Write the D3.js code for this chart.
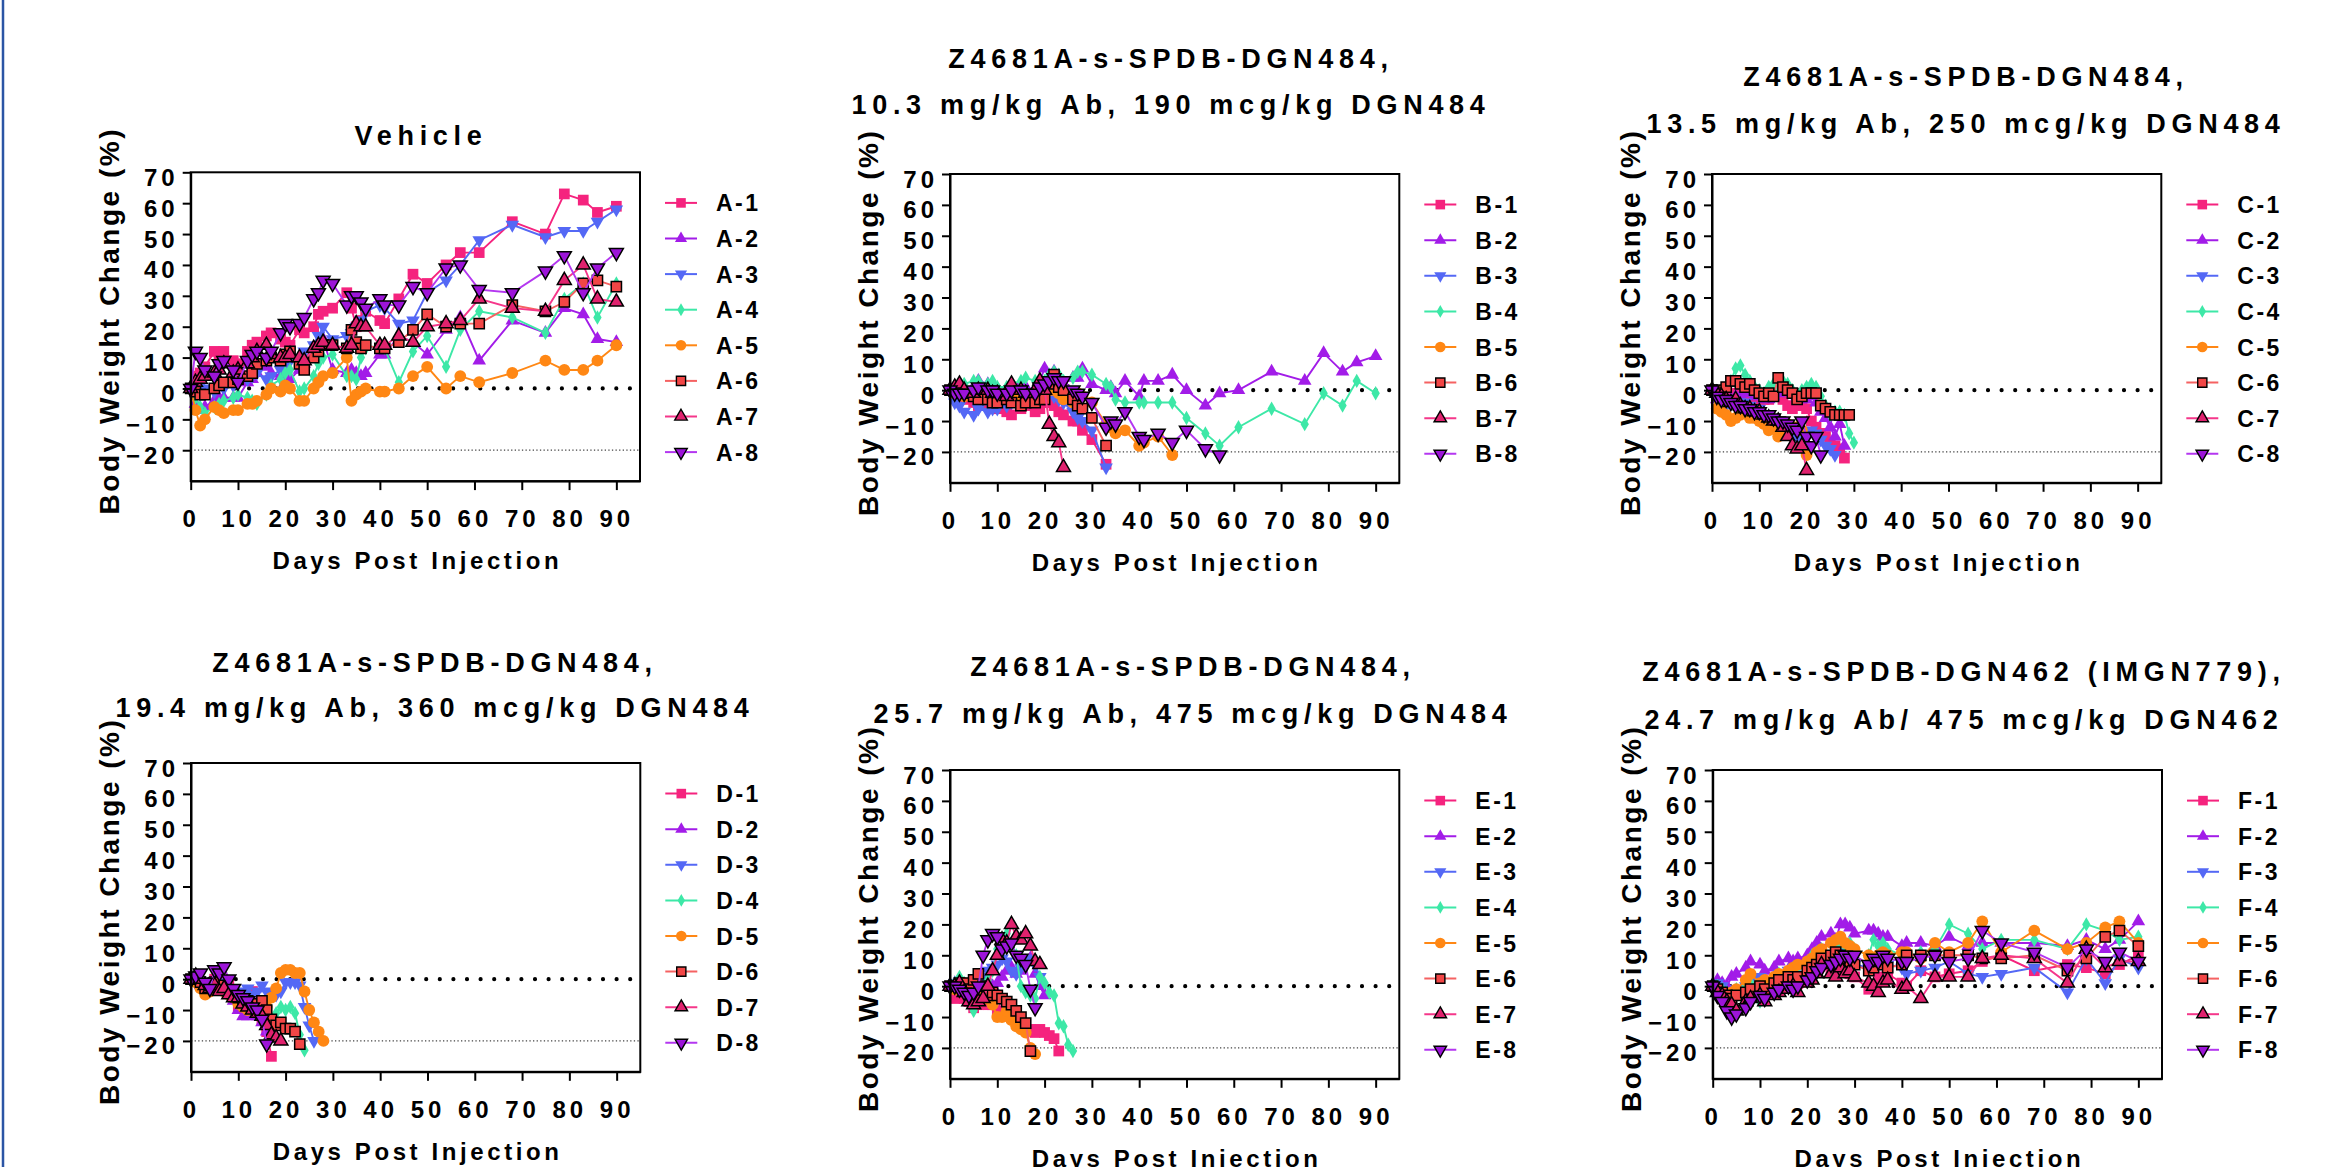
<!DOCTYPE html>
<html>
<head>
<meta charset="utf-8">
<script src="https://cdn.jsdelivr.net/npm/d3@7"></script>
<style>
  body { margin: 0; background: #fff; }
  svg text { font-family: 'Liberation Sans', Arial, Helvetica, sans-serif; font-weight: bold; fill: #000; }
</style>
</head>
<body>
<svg id="chart"></svg>
<script>
// ---- data ----
const xTicks = [0, 10, 20, 30, 40, 50, 60, 70, 80, 90];
const yTicks = [-20, -10, 0, 10, 20, 30, 40, 50, 60, 70];

const daysA = [0,1,2,3,5,6,7,9,10,12,13,14,16,17,19,20,21,23,24,26,27,28,30,33,34,35,36,37,40,41,44,47,50,54,57,61,68,75,79,83,86,90];
const daysB = [0,1,2,3,5,6,8,9,10,12,13,15,16,18,19,20,21,22,23,24,26,27,28,30,33,34,35,37,40,41,44,47,50,54,57,61,68,75,79,83,86,90];
const daysDaily = [0,1,2,3,4,5,6,7,8,9,10,11,12,13,14,15,16,17,18,19,20,21,22,23,24,25,26,27,28,29,30];
const daysF = [0,1,2,3,4,5,7,8,10,11,13,14,16,17,18,20,21,22,23,25,26,27,28,29,30,33,34,35,36,37,40,41,44,47,50,54,57,61,68,75,79,83,86,90];

const seriesA = [
  [0,4,5,7,12,11,12,9,8,12,14,15,17,18,16,15,14,19,18,20,24,25,26,31,26,20,22,25,22,21,29,37,34,40,44,44,54,50,63,61,57,59],
  [0,-5,-7,-6,-4,-3,-3,-3,-3,2,3,5,7,5,4,2,3,6,8,12,15,16,6,5,6,5,4,5,11,11,17,15,11,19,23,9,22,18,26,24,16,15],
  [0,0,1,0,-1,1,0,1,2,3,4,5,3,4,6,7,9,10,12,14,17,20,16,17,18,20,22,25,27,26,21,22,31,35,40,48,53,49,51,51,54,58],
  [0,-3,-6,-8,-6,-5,-4,-3,-2,-3,-4,-5,-2,1,3,5,6,-1,0,4,8,10,11,4,4,3,10,13,14,13,2,12,17,7,19,25,23,18,29,34,23,34],
  [0,-7,-12,-10,-6,-7,-8,-7,-7,-5,-5,-4,-2,0,-1,1,0,-4,-4,0,2,4,5,10,-4,-2,-1,0,-1,-1,0,4,7,0,4,2,5,9,6,6,9,14],
  [0,-1,-2,-2,0,1,2,2,3,4,5,8,9,10,9,11,12,8,6,10,12,14,14,13,19,15,13,14,13,13,15,19,24,20,21,21,27,25,28,34,35,33],
  [0,2,3,4,5,6,8,5,6,8,10,12,14,11,10,10,11,10,9,13,14,15,14,13,14,21,20,20,14,14,17,15,20,21,22,29,26,25,35,40,29,28],
  [0,12,10,6,4,8,9,6,2,9,11,12,10,12,18,21,20,21,23,29,31,35,34,27,30,30,28,26,29,27,27,33,31,39,40,32,31,38,43,31,39,44]
];
const seriesB = [
  [0,-1,-2,-3,-4,-5,-5,-6,-6,-7,-8,-6,-5,-7,-6,-4,-4,-5,-7,-8,-10,-10,-13,-16,-24],
  [0,1,2,0,1,3,2,2,0,0,0,2,1,0,3,7,4,6,4,2,4,4,7,2,0,1,-1,3,-2,3,3,5,0,-5,-1,0,6,3,12,6,9,11],
  [0,-4,-5,-7,-8,-6,-7,-6,-6,-5,-4,-4,-3,-3,-2,-1,-1,-2,-3,-4,-7,-9,-10,-13,-25],
  [0,0,1,2,3,3,2,3,1,1,2,3,4,3,2,3,5,6,5,3,4,6,6,5,2,1,-3,-4,-4,-4,-4,-4,-9,-14,-18,-12,-6,-11,-1,-5,3,-1],
  [0,-1,-1,-2,-2,-2,-1,-1,-2,-3,-3,-2,-2,-1,0,1,0,0,-1,-3,-4,-1,-2,-4,-11,-12,-14,-13,-18,-17,-15,-21],
  [0,0,-1,-1,-2,-3,-3,-4,-4,-3,-4,-5,-4,-4,-3,-3,2,5,1,0,-3,-5,-6,-9,-18],
  [0,1,2,0,-1,0,0,-1,-1,-2,2,0,-1,0,3,0,-11,-15,-17,-25],
  [0,-1,-1,-1,0,1,0,0,-1,-1,0,0,-1,-1,1,2,3,4,3,3,0,-1,-2,-4,-12,-10,-11,-7,-15,-16,-14,-17,-13,-19,-21]
];
const seriesC = [
  [0,-2,-2,-2,-3,-1,0,-2,-2,-3,-4,-3,-3,-2,-2,-3,-5,-6,-5,-5,-6,-10,-12,-14,-15,-17,-18,-19,-22],
  [0,-3,-3,-4,-3,-2,-2,-1,-1,-2,-2,-3,-3,-2,-1,1,0,-1,-2,-3,-3,-2,-4,-7,-9,-12,-15,-11,-18],
  [0,-3,-4,-5,-4,-5,-4,-4,-5,-6,-6,-8,-9,-10,-11,-10,-12,-14,-15,-15,-14,-13,-14,-16,-18,-19,-21],
  [0,-1,0,1,3,7,8,5,3,1,0,-1,1,2,1,3,2,0,-2,0,1,2,1,-2,-5,-8,-7,-7,-8,-14,-17],
  [0,-6,-7,-8,-10,-9,-8,-7,-9,-9,-10,-11,-13,-12,-15,-13,-11,-12,-12,-13,-21],
  [0,0,-1,1,3,3,2,1,2,0,-1,-2,-1,-2,4,1,0,-1,-3,-2,-1,-1,-1,-5,-6,-7,-8,-8,-8,-8],
  [0,-1,-2,-3,-4,-3,-5,-6,-6,-7,-7,-8,-9,-10,-10,-12,-15,-18,-19,-18,-26],
  [0,-2,-3,-3,-4,-5,-5,-6,-6,-7,-7,-8,-8,-9,-10,-10,-11,-12,-13,-10,-15,-18,-15,-21]
];
const seriesD = [
  [0,0,-1,-3,-2,0,0,-1,-2,-4,-9,-8,-5,-4,-8,-13,-17,-25],
  [0,1,-2,-3,-4,-3,-3,-2,-5,-7,-10,-12,-12,-11,-12,-14,-17],
  [0,-1,-2,-3,-2,-3,-2,-1,-3,-5,-6,-4,-3,-5,-4,-2,-4,-5,-5,-4,-1,-1,-1,-2,-9,-15,-20],
  [0,0,-1,-2,-2,-3,-2,-3,-4,-6,-7,-8,-9,-10,-9,-10,-12,-13,-11,-9,-10,-9,-11,-18,-23],
  [0,-1,-3,-5,-4,-3,-2,-4,-5,-6,-8,-9,-10,-9,-10,-11,-9,-6,-3,2,3,3,2,2,-4,-10,-14,-17,-20],
  [0,0,-1,-3,-2,-1,-3,-2,-4,-5,-6,-7,-7,-8,-8,-7,-10,-13,-15,-14,-16,-16,-17,-21],
  [0,1,0,-2,-3,-2,-4,-3,-5,-6,-6,-8,-9,-10,-11,-12,-15,-18,-19,-20],
  [0,1,2,-1,-3,3,2,4,0,-3,-5,-6,-7,-9,-10,-13,-21]
];
const seriesE = [
  [0,-4,-3,-4,-5,-7,-6,-5,-6,-6,-8,-4,-6,-7,-10,-11,-12,-14,-15,-14,-15,-16,-17,-21],
  [0,1,2,0,-2,-1,0,1,2,0,1,3,5,6,4,5,8,9,4,0,-3],
  [0,1,0,-2,-3,0,1,3,5,6,7,9,8,5,4,6,8,9,7,3],
  [0,1,3,1,-4,-8,-3,-1,2,5,12,15,17,14,10,0,-2,-3,-4,3,1,-2,-3,-12,-13,-19,-21],
  [0,-1,0,1,1,0,-2,-3,-4,-6,-10,-10,-8,-11,-13,-14,-15,-20,-22],
  [0,0,1,1,-1,2,4,0,-3,-2,-3,-4,-5,-6,-8,-10,-12,-21],
  [0,0,1,-2,-5,-6,-5,-4,0,5,10,15,14,20,16,15,17,13,8,7],
  [0,0,-1,-2,-3,-2,0,10,15,17,16,12,13,14,10,9,7,-1,-7]
];
const seriesF = [
  [0,-1,-2,-3,-4,-3,-1,-2,0,1,0,2,3,2,3,5,6,7,12,5,4,6,8,4,3,-1,0,3,2,4,1,0,5,3,4,5,8,10,5,7,6,4,7,10],
  [0,2,1,0,3,4,6,8,7,5,6,8,9,8,9,10,12,14,16,17,15,20,20,19,17,18,18,17,16,16,13,14,14,13,16,13,14,14,14,13,15,12,15,21],
  [0,1,0,-2,-3,-1,0,2,3,1,2,4,5,4,6,6,8,9,9,10,10,11,10,8,7,6,7,9,8,7,6,4,5,6,8,4,3,4,6,-2,9,1,9,6],
  [0,0,-1,-2,-3,-1,0,1,-5,0,2,4,5,6,6,8,10,11,12,10,13,14,13,14,12,10,15,13,14,12,10,9,11,12,20,17,12,15,15,12,20,18,15,16],
  [0,-1,-2,-3,-2,-1,2,4,1,2,3,4,5,6,7,8,9,11,12,14,15,16,14,13,12,10,9,10,11,10,11,11,9,14,11,14,21,11,18,12,14,19,21,14],
  [0,-1,-2,-3,-4,-3,-2,-1,0,-1,1,2,3,2,3,5,6,7,9,10,11,10,9,8,7,5,6,8,7,6,7,10,10,10,10,10,9,9,10,5,9,16,18,13],
  [0,-2,-3,-5,-6,-8,-5,-4,-3,-5,-3,-2,-1,0,-2,1,2,4,7,4,3,6,4,5,3,1,0,-2,1,2,-1,0,-4,3,3,3,9,10,9,1,12,6,8,8],
  [0,-3,-5,-8,-10,-9,-7,-5,-3,-4,-2,-1,0,-1,0,2,3,5,6,7,8,9,10,9,10,7,9,8,10,9,8,8,9,10,8,9,18,14,11,6,12,8,11,8]
];

const titleA = ['Vehicle'];
const titleB = ['Z4681A-s-SPDB-DGN484,', '10.3 mg/kg Ab, 190 mcg/kg DGN484'];
const titleC = ['Z4681A-s-SPDB-DGN484,', '13.5 mg/kg Ab, 250 mcg/kg DGN484'];
const titleD = ['Z4681A-s-SPDB-DGN484,', '19.4 mg/kg Ab, 360 mcg/kg DGN484'];
const titleE = ['Z4681A-s-SPDB-DGN484,', '25.7 mg/kg Ab, 475 mcg/kg DGN484'];
const titleF = ['Z4681A-s-SPDB-DGN462 (IMGN779),', '24.7 mg/kg Ab/ 475 mcg/kg DGN462'];

const animals = ['1', '2', '3', '4', '5', '6', '7', '8'];

// ---- styles ----
const lineColors = ['#F5237E', '#A21CE8', '#5468F5', '#3DE8A7', '#FF8714', '#F56262', '#F5378A', '#B437F0'];
const markFills  = ['#F5237E', '#A21CE8', '#5468F5', '#3DE8A7', '#FF8714', '#F24646', '#E0226E', '#9C14D8'];
const outlined   = [false, false, false, false, false, true, true, true];
const shapes = [
  {type: d3.symbolSquare, size: 115, rot: 0},
  {type: d3.symbolTriangle, size: 80, rot: 0},
  {type: d3.symbolTriangle, size: 80, rot: 180},
  {type: d3.symbolDiamond, size: 60, rot: 0},
  {type: d3.symbolCircle, size: 110, rot: 0},
  {type: d3.symbolSquare, size: 105, rot: 0},
  {type: d3.symbolTriangle, size: 85, rot: 0},
  {type: d3.symbolTriangle, size: 85, rot: 180}
];

const W = 449.3, H = 308.8;

const svg = d3.select('#chart')
    .attr('width', 2331)
    .attr('height', 1167);

svg.append('rect').attr('width', 2331).attr('height', 1167).attr('fill', '#fff');
svg.append('line')
    .attr('x1', 3).attr('x2', 3).attr('y1', 0).attr('y2', 1167)
    .attr('stroke', '#2B55A5').attr('stroke-width', 2.5);

function drawPanel(cfg, group, days, series, titleLines) {
  const g = svg.append('g').attr('transform', `translate(${cfg.left},${cfg.top})`);

  const x = d3.scaleLinear().domain([0, 95]).range([0, W]);
  const y = d3.scaleLinear().domain([-30, 70]).range([H, 0]);

  // reference lines at -20 and 0
  g.append('line')
      .attr('x1', 0).attr('x2', W).attr('y1', y(-20)).attr('y2', y(-20))
      .attr('stroke', '#444').attr('stroke-width', 1.3).attr('stroke-dasharray', '1.3 2.3');
  g.append('line')
      .attr('x1', 4).attr('x2', W).attr('y1', y(0)).attr('y2', y(0))
      .attr('stroke', '#000').attr('stroke-width', 4.2)
      .attr('stroke-linecap', 'round').attr('stroke-dasharray', '0 13.6');

  const line = d3.line().x(p => x(p.d)).y(p => y(p.v));

  series.forEach((vals, i) => {
    const pts = vals.map((v, j) => ({d: days[j], v: v}));
    g.append('path')
        .datum(pts)
        .attr('d', line)
        .attr('fill', 'none')
        .attr('stroke', lineColors[i])
        .attr('stroke-width', 1.9);
    const sym = d3.symbol().type(shapes[i].type).size(shapes[i].size);
    g.append('g').selectAll('path')
        .data(pts)
        .join('path')
        .attr('transform', p => `translate(${x(p.d)},${y(p.v)}) rotate(${shapes[i].rot})`)
        .attr('d', sym)
        .attr('fill', markFills[i])
        .attr('stroke', outlined[i] ? '#000' : 'none')
        .attr('stroke-width', 1.5);
  });

  // frame
  g.append('rect')
      .attr('width', W).attr('height', H)
      .attr('fill', 'none').attr('stroke', '#000').attr('stroke-width', 2);

  // axes
  const yAxisG = g.append('g')
      .call(d3.axisLeft(y).tickValues(yTicks).tickSize(8).tickSizeOuter(0));
  const xAxisG = g.append('g')
      .attr('transform', `translate(0,${H})`)
      .call(d3.axisBottom(x).tickValues(xTicks).tickSize(9).tickSizeOuter(0));

  [yAxisG, xAxisG].forEach(a => {
    a.attr('font-family', null).attr('font-size', null);
    a.select('.domain').attr('stroke-width', 2);
    a.selectAll('.tick line').attr('stroke-width', 2);
  });
  yAxisG.selectAll('.tick text')
      .attr('x', -12).attr('y', 13).attr('dy', null)
      .style('font-size', '24px').attr('letter-spacing', 4);
  xAxisG.selectAll('.tick text')
      .attr('y', 46).attr('dy', null)
      .style('font-size', '24px').attr('letter-spacing', 4);

  // axis titles
  g.append('text')
      .attr('transform', `translate(-72,${H / 2 - 6}) rotate(-90)`)
      .attr('text-anchor', 'middle')
      .style('font-size', '28px').attr('letter-spacing', 2.5)
      .text('Body Weight Change (%)');
  g.append('text')
      .attr('x', W / 2 + 2).attr('y', H + 88)
      .attr('text-anchor', 'middle')
      .style('font-size', '24px').attr('letter-spacing', 3.6)
      .text('Days Post Injection');

  // chart title
  titleLines.forEach((t, k) => {
    svg.append('text')
        .attr('x', cfg.titleX + 3).attr('y', cfg.titleY[k])
        .attr('text-anchor', 'middle')
        .style('font-size', '27px').attr('letter-spacing', 5.7)
        .text(t);
  });

  // legend
  const leg = g.append('g').attr('transform', `translate(${W},0)`);
  animals.forEach((a, i) => {
    const ly = 30.6 + i * 35.6;
    leg.append('line')
        .attr('x1', 25).attr('x2', 57).attr('y1', ly).attr('y2', ly)
        .attr('stroke', lineColors[i]).attr('stroke-width', 2);
    leg.append('path')
        .attr('transform', `translate(41,${ly}) rotate(${shapes[i].rot})`)
        .attr('d', d3.symbol().type(shapes[i].type).size(shapes[i].size * 0.8))
        .attr('fill', markFills[i])
        .attr('stroke', outlined[i] ? '#000' : 'none')
        .attr('stroke-width', 1.4);
    leg.append('text')
        .attr('x', 76).attr('y', ly + 8.5)
        .style('font-size', '23px').attr('letter-spacing', 2.5)
        .text(`${group}-${a}`);
  });
}

drawPanel({left: 190.7, top: 172.3, titleX: 418,  titleY: [145]},        'A', daysA,     seriesA, titleA);
drawPanel({left: 950,   top: 174,   titleX: 1168, titleY: [67.5, 114]},  'B', daysB,     seriesB, titleB);
drawPanel({left: 1712,  top: 174,   titleX: 1963, titleY: [86, 133]},    'C', daysDaily, seriesC, titleC);
drawPanel({left: 191,   top: 763,   titleX: 432,  titleY: [672, 717]},   'D', daysDaily, seriesD, titleD);
drawPanel({left: 950,   top: 770,   titleX: 1190, titleY: [676, 723]},   'E', daysDaily, seriesE, titleE);
drawPanel({left: 1712.7, top: 770,  titleX: 1961, titleY: [681, 729]},   'F', daysF,     seriesF, titleF);
</script>
</body>
</html>
